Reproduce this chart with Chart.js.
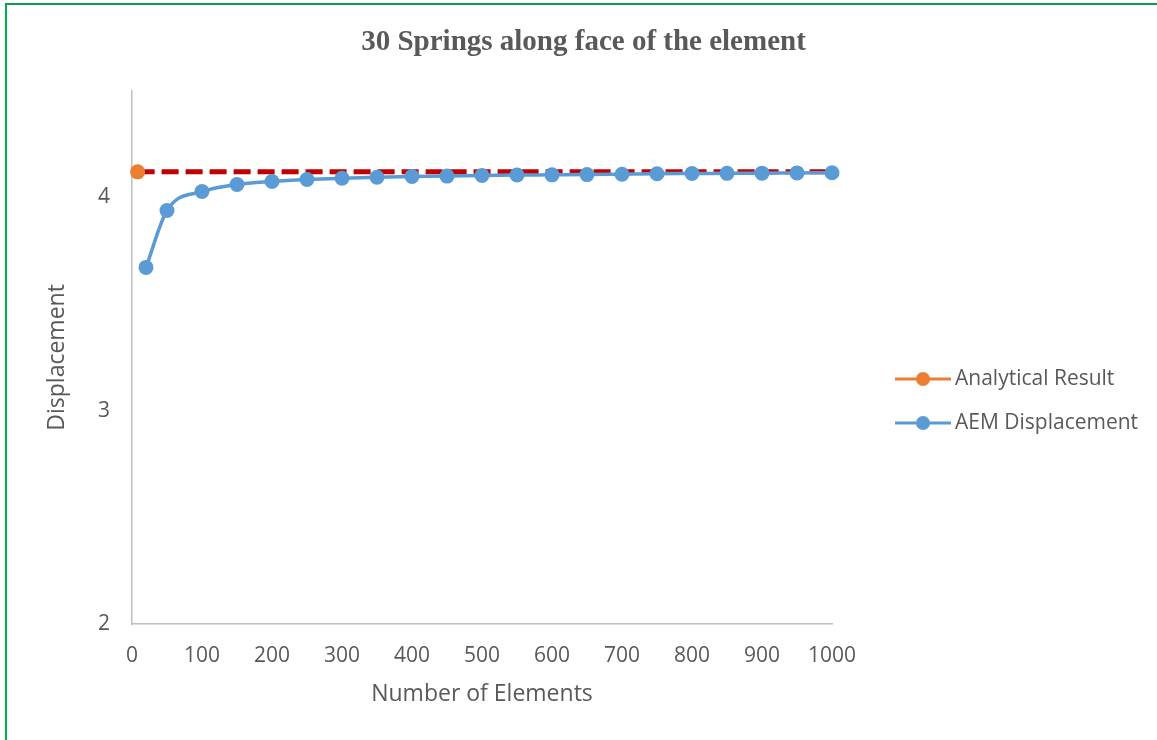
<!DOCTYPE html>
<html>
<head>
<meta charset="utf-8">
<title>30 Springs along face of the element</title>
<script src="https://cdn.jsdelivr.net/npm/chart.js@4.4.1/dist/chart.umd.min.js"></script>
<style>
  body { margin: 0; background: #fff; }
  #wrap { position: relative; width: 1157px; height: 740px; overflow: hidden; }
  #frame {
    position: absolute; left: 5px; top: 3px; width: 1200px; height: 800px;
    border-top: 2px solid #139a4e; border-left: 2px solid #00b050;
    pointer-events: none;
  }
</style>
</head>
<body>
<div id="wrap">
  <canvas id="myLineChart" width="1157" height="740"></canvas>
  <div id="frame"></div>
</div>
<script>
// Mesh sizes and the displacement the AEM model gives for each
const elements = [20, 50, 100, 150, 200, 250, 300, 350, 400, 450, 500,
                  550, 600, 650, 700, 750, 800, 850, 900, 950, 1000];
const aemDisplacement = [3.672, 3.939, 4.028, 4.061, 4.075, 4.084, 4.090, 4.095, 4.098, 4.100, 4.103,
                         4.105, 4.106, 4.107, 4.109, 4.111, 4.112, 4.113, 4.114, 4.115, 4.116];

// Closed-form answer, drawn as a flat reference line
const analyticalX = [8, 1000];
const analyticalValue = 4.12;

const xTicks = { min: 0, max: 1000, step: 100 };
const yTicks = { min: 2, max: 4.5, step: 1 };

const textColor = '#595959';
const axisColor = '#bfbfbf';
Chart.defaults.font.family = "'Open Sans', sans-serif";

// Right-hand legend: line sample with a marker, then the label
const sideLegend = {
  id: 'sideLegend',
  afterDraw(chart) {
    const c = chart.ctx;
    const rows = [379, 423];
    c.save();
    chart.data.datasets.forEach((ds, i) => {
      const y = rows[i];
      const col = ds.legendColor;
      c.strokeStyle = col;
      c.lineWidth = 3;
      c.beginPath();
      c.moveTo(895, y);
      c.lineTo(951, y);
      c.stroke();
      c.fillStyle = col;
      c.beginPath();
      c.arc(923, y, 7, 0, Math.PI * 2);
      c.fill();
      c.fillStyle = textColor;
      c.font = "21px 'Open Sans', sans-serif";
      c.textBaseline = 'middle';
      c.fillText(ds.label, 955, y);
    });
    c.restore();
  }
};

const ctx = document.getElementById('myLineChart').getContext('2d');

new Chart(ctx, {
  type: 'line',
  data: {
    datasets: [{
      label: 'Analytical Result',
      data: analyticalX.map(x => ({ x: x, y: analyticalValue })),
      borderColor: '#c00000',
      borderWidth: 5,
      borderDash: [17, 7],
      pointRadius: [7.5, 0],
      pointBackgroundColor: '#ed7d31',
      pointBorderWidth: 0,
      legendColor: '#ed7d31',
      order: 1
    }, {
      label: 'AEM Displacement',
      data: elements.map((x, i) => ({ x: x, y: aemDisplacement[i] })),
      borderColor: '#5b9bd5',
      borderWidth: 3.5,
      cubicInterpolationMode: 'monotone',
      pointRadius: 7.5,
      pointBackgroundColor: '#5b9bd5',
      pointBorderWidth: 0,
      legendColor: '#5b9bd5',
      order: 0
    }]
  },
  options: {
    responsive: false,
    animation: false,
    clip: false,
    layout: { padding: { left: 10, right: 0, top: 0, bottom: 0 } },
    plugins: {
      legend: { display: false },
      tooltip: { enabled: false },
      title: {
        display: true,
        text: '30 Springs along face of the element',
        color: textColor,
        font: { family: "'Liberation Serif', 'Times New Roman', serif", size: 29, weight: 'bold' },
        padding: { top: 25, bottom: 31 }
      }
    },
    scales: {
      x: {
        type: 'linear',
        min: xTicks.min,
        max: xTicks.max,
        ticks: {
          stepSize: xTicks.step, color: textColor, font: { size: 21 }, padding: 19,
          callback: v => String(v)
        },
        grid: { display: false, drawTicks: false, tickLength: 0 },
        border: { color: axisColor, width: 1.5 },
        title: {
          display: true,
          text: 'Number of Elements',
          color: textColor,
          font: { size: 23 },
          padding: { top: 0, bottom: 32 }
        },
        afterFit(scale) { scale.height = 116; }
      },
      y: {
        min: yTicks.min,
        max: yTicks.max,
        ticks: { stepSize: yTicks.step, includeBounds: false, color: textColor, font: { size: 21 }, padding: 22 },
        grid: { display: false, drawTicks: false, tickLength: 0 },
        border: { color: axisColor, width: 1.5 },
        title: {
          display: true,
          text: 'Displacement',
          color: textColor,
          font: { size: 23 },
          padding: { top: 34, bottom: 0 }
        },
        afterFit(scale) { scale.width = 122; }
      },
      legendSpace: {
        position: 'right',
        display: true,
        ticks: { display: false },
        grid: { display: false },
        border: { display: false },
        afterFit(scale) { scale.width = 325; }
      }
    }
  },
  plugins: [sideLegend]
});
</script>
</body>
</html>
